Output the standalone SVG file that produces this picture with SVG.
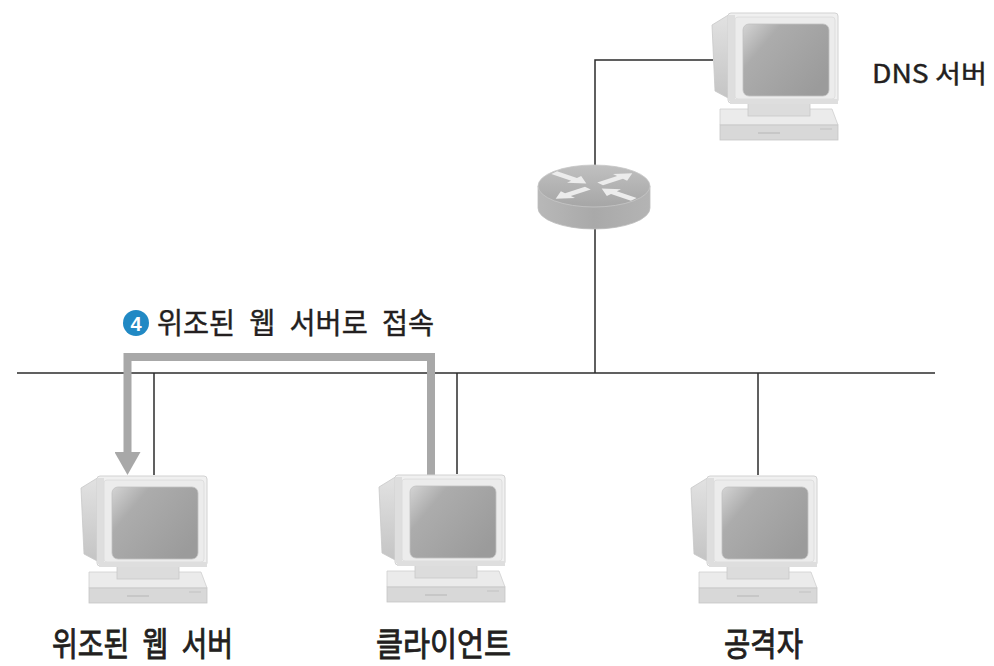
<svg xmlns="http://www.w3.org/2000/svg" xmlns:xlink="http://www.w3.org/1999/xlink" width="994" height="666" viewBox="0 0 994 666">
  <style>
    .wire { fill: none; stroke: #2b2b2b; stroke-width: 1.5; }
    .flow { fill: none; stroke: #a8a8a8; stroke-width: 8; }
    .label { font-family: "Noto Sans CJK KR", "Noto Sans", sans-serif; fill: #231f20; stroke: #231f20; stroke-width: 0.4; }
    .name { font-size: 33px; stroke-width: 0.9; }
  </style>
  <defs>
    <linearGradient id="screen" x1="0" y1="0" x2="1" y2="0.7">
      <stop offset="0" stop-color="#d4d4d4"/>
      <stop offset="0.3" stop-color="#acacac"/>
      <stop offset="1" stop-color="#9b9b9b"/>
    </linearGradient>
    <linearGradient id="side" x1="0" y1="0" x2="0" y2="1">
      <stop offset="0" stop-color="#e2e2e2"/>
      <stop offset="1" stop-color="#c4c4c4"/>
    </linearGradient>
    <linearGradient id="rtop" x1="0" y1="0" x2="0" y2="1">
      <stop offset="0" stop-color="#c0c0c0"/>
      <stop offset="1" stop-color="#a6a6a6"/>
    </linearGradient>
    <linearGradient id="rside" x1="0" y1="0" x2="1" y2="0">
      <stop offset="0" stop-color="#b8b8b8"/>
      <stop offset="0.5" stop-color="#a9a9a9"/>
      <stop offset="1" stop-color="#b4b4b4"/>
    </linearGradient>
    <marker id="head" viewBox="0 0 23 26" refX="0" refY="13" markerWidth="23" markerHeight="26" markerUnits="userSpaceOnUse" orient="auto">
      <path d="M0,0 L23,13 L0,26 Z" fill="#a8a8a8"/>
    </marker>
    <path id="rarrow" d="M0,-4.5 H26 V-11 L42,0 L26,11 V4.5 H0 Z" fill="#ececec"/>

    <!-- desktop computer: monitor on a flat base; origin at the front bezel's top-left -->
    <g id="pc">
      <polygon points="-16,12 2,1 2,86 -13,78" fill="url(#side)" stroke="#c8c8c8" stroke-width="0.8"/>
      <path d="M-8,96 H104 L110,112 H-8 Z" fill="#ebebeb" stroke="#cfcfcf" stroke-width="0.8"/>
      <rect x="-8" y="112" width="118" height="15" fill="#d8d8d8" stroke="#c6c6c6" stroke-width="0.8"/>
      <line x1="30" y1="120" x2="52" y2="120" stroke="#bdbdbd" stroke-width="1.2"/>
      <line x1="92" y1="116" x2="104" y2="116" stroke="#c2c2c2" stroke-width="1"/>
      <rect x="20" y="88" width="62" height="15" fill="#dcdcdc" stroke="#c8c8c8" stroke-width="0.8"/>
      <rect x="0" y="0" width="110" height="90" rx="3" fill="#f0f0f0" stroke="#d2d2d2" stroke-width="1"/>
      <rect x="0" y="2" width="7" height="86" fill="#dedede"/>
      <rect x="7" y="4" width="100" height="82" rx="3" fill="#ececec" stroke="#dadada" stroke-width="0.8"/>
      <rect x="15" y="11" width="86" height="72" rx="6" fill="url(#screen)" stroke="#c2c2c2" stroke-width="0.8"/>
      <rect x="2" y="86" width="108" height="5" fill="#dedede"/>
    </g>
  </defs>

  <rect width="994" height="666" fill="#ffffff"/>

  <!-- network wiring -->
  <g id="connectors">
    <path class="wire" d="M17,373 H935"/>
    <path class="wire" d="M154,373 V475"/>
    <path class="wire" d="M457,373 V474"/>
    <path class="wire" d="M758,373 V475"/>
    <path class="wire" d="M595,373 V60 H713"/>
    <!-- step 4: client reaches the forged web server -->
    <path class="flow" d="M431,475 V357 H127.5 V452" marker-end="url(#head)"/>
  </g>

  <g id="router">
    <path d="M538,186 V208 A56,21 0 0 0 650,208 V186 Z" fill="url(#rside)" stroke="#bcbcbc" stroke-width="0.8"/>
    <ellipse cx="594" cy="186" rx="56" ry="21" fill="url(#rtop)" stroke="#c6c6c6" stroke-width="0.8"/>
    <g transform="translate(594,186) scale(1,0.4)">
      <use xlink:href="#rarrow" transform="rotate(-140) translate(52,0) scale(-1,1)"/>
      <use xlink:href="#rarrow" transform="rotate(40) translate(52,0) scale(-1,1)"/>
      <use xlink:href="#rarrow" transform="rotate(-40) translate(8,0)"/>
      <use xlink:href="#rarrow" transform="rotate(140) translate(8,0)"/>
    </g>
  </g>

  <g id="dns-server">
    <use xlink:href="#pc" transform="translate(728,13)"/>
    <text class="label" x="872" y="83" font-size="25" stroke-width="0.6" textLength="115" lengthAdjust="spacingAndGlyphs">DNS 서버</text>
  </g>

  <g id="fake-web-server">
    <use xlink:href="#pc" transform="translate(97,476)"/>
    <text class="label name" x="52" y="656" word-spacing="8" textLength="181" lengthAdjust="spacingAndGlyphs">위조된 웹 서버</text>
  </g>

  <g id="client">
    <use xlink:href="#pc" transform="translate(395,475)"/>
    <text class="label name" x="376" y="656" textLength="135" lengthAdjust="spacingAndGlyphs">클라이언트</text>
  </g>

  <g id="attacker">
    <use xlink:href="#pc" transform="translate(707,476)"/>
    <text class="label name" x="724" y="656" textLength="79" lengthAdjust="spacingAndGlyphs">공격자</text>
  </g>

  <g id="step-label">
    <circle cx="136" cy="323" r="13" fill="#2189c4"/>
    <text x="136" y="330.5" font-family="Liberation Sans, sans-serif" font-size="20" font-weight="bold" fill="#ffffff" text-anchor="middle">4</text>
    <text class="label" x="157" y="334" font-size="29" word-spacing="8" textLength="277" lengthAdjust="spacingAndGlyphs">위조된 웹 서버로 접속</text>
  </g>
</svg>
